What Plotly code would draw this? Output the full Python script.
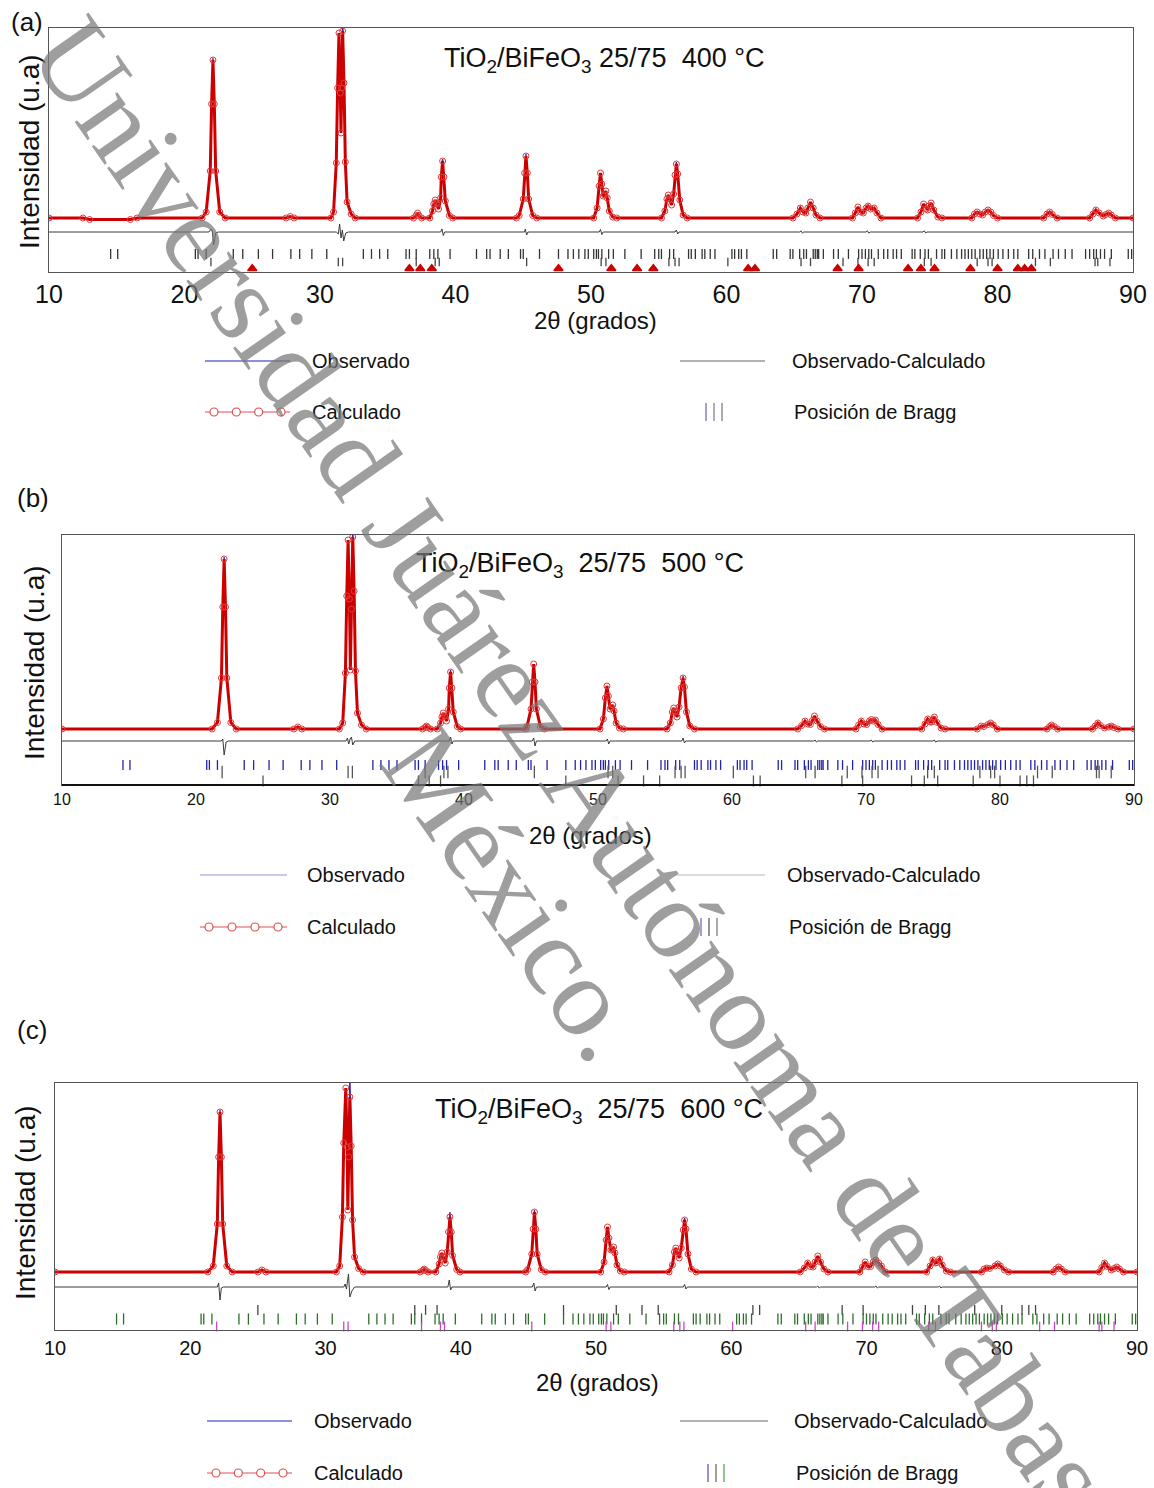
import plotly.graph_objects as go

# ---------------- DATA ----------------
tick_vals = [10, 20, 30, 40, 50, 60, 70, 80, 90]
tick_text = ["10", "20", "30", "40", "50", "60", "70", "80", "90"]

titles = ["TiO<sub>2</sub>/BiFeO<sub>3</sub> 25/75\u00a0\u00a0400 °C",
          "TiO<sub>2</sub>/BiFeO<sub>3</sub>\u00a0\u00a025/75\u00a0\u00a0500 °C",
          "TiO<sub>2</sub>/BiFeO<sub>3</sub>\u00a0\u00a025/75\u00a0\u00a0600 °C"]
panel_labels = ["(a)", "(b)", "(c)"]
legend_labels = ["Observado", "Calculado", "Observado-Calculado", "Posición de Bragg"]
watermark_lines = ["Universidad Juárez Autónoma de Tabasco.", "México."]

# calculated profile (2theta, intensity u.a.)
calc_a = [(10.0, 0), (12.5, 0), (13.0, -15), (16.0, -15), (16.5, 0), (21.3, 0),
          (21.6, 60), (21.9, 470), (22.0, 1140), (22.1, 1580), (22.2, 1140), (22.3, 470), (22.6, 60), (23.0, 0),
          (27.5, 0), (27.8, 15), (28.1, 0), (30.8, 0),
          (31.0, 60), (31.2, 550), (31.3, 1300), (31.4, 1850), (31.5, 1250), (31.55, 850), (31.6, 1300),
          (31.67, 1870), (31.77, 1350), (31.87, 560), (32.0, 160), (32.3, 40), (32.6, 0),
          (36.9, 0), (37.1, 25), (37.2, 50), (37.3, 25), (37.5, 0),
          (38.1, 0), (38.3, 70), (38.4, 140), (38.5, 180), (38.6, 150), (38.75, 90), (38.9, 200), (38.95, 410),
          (39.05, 570), (39.15, 410), (39.25, 170), (39.55, 25), (39.8, 0),
          (44.5, 0), (44.7, 25), (45.0, 190), (45.1, 450), (45.2, 620), (45.3, 450), (45.4, 190), (45.7, 25), (46.0, 0),
          (50.2, 0), (50.45, 100), (50.6, 320), (50.7, 450), (50.8, 340), (50.9, 220), (51.0, 230), (51.1, 270),
          (51.2, 200), (51.35, 70), (51.6, 10), (51.9, 0),
          (55.2, 0), (55.45, 70), (55.6, 190), (55.7, 230), (55.8, 190), (55.95, 130), (56.1, 240), (56.2, 430),
          (56.3, 540), (56.4, 440), (56.55, 180), (56.8, 30), (57.1, 0),
          (64.9, 0), (65.2, 40), (65.45, 100), (65.65, 60), (65.85, 50), (66.0, 100), (66.2, 160), (66.4, 100), (66.6, 30), (66.9, 0),
          (69.3, 0), (69.5, 50), (69.7, 110), (69.9, 60), (70.1, 50), (70.3, 100), (70.45, 120), (70.65, 90), (70.9, 100), (71.1, 50), (71.4, 0),
          (74.1, 0), (74.35, 60), (74.55, 140), (74.75, 90), (74.85, 80), (74.95, 120), (75.1, 150), (75.3, 80), (75.6, 10), (75.9, 0),
          (78.1, 0), (78.3, 40), (78.5, 60), (78.7, 40), (78.9, 30), (79.1, 60), (79.3, 80), (79.5, 60), (79.7, 25), (80.0, 0),
          (83.4, 0), (83.65, 40), (83.85, 60), (84.05, 35), (84.4, 0),
          (86.8, 0), (87.05, 40), (87.26, 80), (87.5, 50), (87.8, 20), (88.0, 35), (88.2, 50), (88.4, 30), (88.7, 0), (90.0, 0)]
obs_tops_a = {22.1: 1600, 31.67: 2050, 39.05: 590, 45.2: 640, 56.3: 560}
diff_a = [(10.0, -140), (21.8, -140), (21.95, -110), (22.05, -125), (22.15, -270), (22.3, -150), (22.5, -140),
          (31.2, -140), (31.35, -160), (31.45, -60), (31.55, -200), (31.65, -120), (31.75, -230), (31.9, -150), (32.1, -140),
          (38.9, -140), (39.0, -110), (39.1, -175), (39.2, -140), (45.1, -140), (45.15, -110), (45.25, -170), (45.35, -140),
          (50.6, -140), (50.7, -115), (50.8, -165), (50.9, -140), (56.2, -140), (56.3, -120), (56.4, -160), (56.5, -140),
          (65.4, -140), (65.5, -128), (65.6, -152), (65.7, -140), (70.3, -140), (70.4, -128), (70.5, -152), (70.6, -140),
          (74.5, -140), (74.6, -128), (74.7, -150), (74.8, -140), (90.0, -140)]

calc_b = [(10.0, 0), (21.2, 0), (21.6, 65), (21.9, 510), (22.0, 1220), (22.1, 1700), (22.2, 1220), (22.3, 510), (22.6, 65), (23.0, 0),
          (27.3, 0), (27.6, 20), (27.9, 0),
          (30.7, 0), (30.95, 60), (31.15, 560), (31.25, 1330), (31.35, 1890), (31.45, 1300), (31.52, 590), (31.6, 1200),
          (31.7, 1920), (31.8, 1380), (31.9, 580), (32.05, 160), (32.35, 40), (32.7, 0),
          (36.9, 0), (37.1, 15), (37.2, 30), (37.3, 15), (37.5, 0),
          (38.0, 0), (38.25, 60), (38.35, 120), (38.45, 160), (38.55, 130), (38.7, 80), (38.85, 200), (38.9, 410),
          (39.0, 570), (39.1, 410), (39.2, 170), (39.5, 25), (39.75, 0),
          (44.6, 0), (44.7, 25), (45.0, 200), (45.1, 470), (45.2, 650), (45.3, 470), (45.4, 200), (45.7, 25), (46.0, 0),
          (50.15, 0), (50.4, 100), (50.55, 310), (50.67, 430), (50.77, 330), (50.9, 200), (51.0, 215), (51.1, 240),
          (51.2, 180), (51.35, 60), (51.6, 10), (51.9, 0),
          (55.15, 0), (55.4, 60), (55.55, 170), (55.65, 210), (55.75, 175), (55.9, 120), (56.05, 220), (56.2, 410),
          (56.35, 510), (56.45, 420), (56.6, 170), (56.85, 30), (57.2, 0),
          (64.9, 0), (65.2, 35), (65.45, 80), (65.65, 50), (65.85, 45), (66.0, 85), (66.15, 130), (66.35, 80), (66.6, 25), (66.9, 0),
          (69.25, 0), (69.45, 40), (69.65, 80), (69.85, 50), (70.05, 45), (70.25, 80), (70.4, 95), (70.55, 80), (70.7, 90), (70.9, 45), (71.2, 0),
          (74.15, 0), (74.4, 50), (74.6, 100), (74.8, 70), (74.9, 70), (75.0, 100), (75.1, 120), (75.3, 65), (75.6, 10), (75.9, 0),
          (78.3, 0), (78.6, 30), (78.8, 25), (79.1, 45), (79.3, 60), (79.5, 40), (79.8, 0),
          (83.5, 0), (83.7, 25), (83.85, 40), (84.05, 25), (84.3, 0),
          (86.9, 0), (87.1, 30), (87.3, 60), (87.5, 35), (87.8, 10), (88.1, 20), (88.3, 30), (88.5, 15), (88.8, 0), (90.0, 0)]
obs_tops_b = {22.1: 1720, 31.7: 2050, 39.0: 590, 56.35: 530}
diff_b = [(10.0, -120), (21.9, -120), (22.0, -100), (22.1, -260), (22.25, -130), (22.4, -120),
          (31.2, -120), (31.3, -90), (31.4, -150), (31.5, -100), (31.6, -80), (31.7, -160), (31.85, -120),
          (38.9, -120), (39.0, -80), (39.1, -150), (39.2, -120), (45.1, -120), (45.2, -90), (45.3, -170), (45.4, -120),
          (50.6, -120), (50.7, -100), (50.8, -150), (50.9, -120), (56.25, -120), (56.35, -90), (56.45, -140), (56.55, -120),
          (66.1, -120), (66.2, -110), (66.3, -130), (66.4, -120), (70.3, -120), (70.4, -110), (70.5, -130), (70.6, -120),
          (75.0, -120), (75.1, -110), (75.2, -132), (75.3, -120), (90.0, -120)]

calc_c = [(10.0, 0), (21.3, 0), (21.7, 60), (22.0, 480), (22.1, 1150), (22.2, 1600), (22.3, 1150), (22.4, 480), (22.7, 60), (23.1, 0),
          (25.0, 0), (25.3, 20), (25.6, 0),
          (30.8, 0), (31.05, 60), (31.25, 550), (31.35, 1290), (31.5, 1840), (31.6, 1250), (31.65, 620), (31.72, 1150),
          (31.8, 1750), (31.9, 1260), (32.0, 520), (32.15, 150), (32.45, 35), (32.8, 0),
          (37.0, 0), (37.2, 15), (37.3, 30), (37.4, 15), (37.6, 0),
          (38.15, 0), (38.4, 80), (38.5, 150), (38.6, 190), (38.7, 150), (38.85, 90), (39.0, 200), (39.1, 400),
          (39.2, 550), (39.3, 400), (39.4, 165), (39.7, 25), (39.95, 0),
          (44.8, 0), (44.95, 25), (45.25, 180), (45.35, 430), (45.45, 600), (45.55, 430), (45.65, 180), (45.95, 25), (46.25, 0),
          (50.35, 0), (50.6, 100), (50.75, 320), (50.85, 450), (50.95, 340), (51.1, 220), (51.2, 230), (51.3, 250),
          (51.4, 190), (51.55, 70), (51.8, 10), (52.1, 0),
          (55.4, 0), (55.65, 70), (55.8, 200), (55.9, 240), (56.0, 200), (56.15, 140), (56.3, 240), (56.45, 420),
          (56.55, 520), (56.65, 430), (56.8, 180), (57.05, 30), (57.4, 0),
          (65.1, 0), (65.4, 40), (65.65, 90), (65.85, 55), (66.05, 50), (66.2, 100), (66.4, 160), (66.6, 100), (66.85, 30), (67.15, 0),
          (69.5, 0), (69.7, 50), (69.9, 100), (70.1, 55), (70.3, 55), (70.5, 100), (70.7, 120), (70.9, 90), (71.1, 60), (71.4, 0),
          (74.45, 0), (74.7, 60), (74.9, 120), (75.1, 90), (75.2, 95), (75.4, 130), (75.6, 70), (75.9, 10), (76.2, 0),
          (78.5, 0), (78.7, 30), (78.9, 40), (79.1, 35), (79.5, 60), (79.7, 80), (79.9, 60), (80.2, 20), (80.5, 0),
          (83.8, 0), (84.0, 30), (84.2, 50), (84.4, 30), (84.7, 0),
          (87.2, 0), (87.4, 45), (87.6, 90), (87.8, 55), (88.1, 20), (88.3, 35), (88.5, 50), (88.7, 30), (89.0, 0), (90.0, 0)]
obs_tops_c = {22.2: 1620, 31.8: 2000, 39.2: 600, 45.45: 620, 56.55: 540}
diff_c = [(10.0, -150), (22.0, -150), (22.1, -110), (22.2, -280), (22.3, -160), (22.45, -150),
          (31.35, -150), (31.45, -120), (31.55, -170), (31.7, -20), (31.8, -250), (31.95, -190), (32.15, -150),
          (39.05, -150), (39.15, -80), (39.25, -180), (39.35, -150), (45.3, -150), (45.4, -110), (45.5, -190), (45.6, -150),
          (50.75, -150), (50.85, -125), (50.95, -175), (51.05, -150), (56.45, -150), (56.55, -125), (56.65, -170), (56.75, -150),
          (66.3, -150), (66.4, -140), (66.5, -160), (66.6, -150), (70.6, -150), (70.7, -140), (70.8, -160), (70.9, -150),
          (75.3, -150), (75.4, -140), (75.5, -160), (75.6, -150), (90.0, -150)]

# Bragg positions (2theta)
bragg_sec = [14.55, 15.07, 20.8, 21.0, 21.6, 23.6, 24.3, 25.45, 26.5, 27.85, 28.5, 29.4, 30.5, 33.2, 33.8, 34.4,
             35.0, 36.35, 36.6, 37.1, 38.1, 38.4, 38.7, 39.6, 41.55, 42.3, 42.55, 43.3, 43.9, 44.8, 45.0, 46.2,
             47.6, 48.3, 48.7, 49.1, 49.55, 49.8, 50.2, 50.4, 50.55, 50.8, 51.3, 51.65, 52.5, 53.7, 54.7, 55.0,
             55.2, 55.8, 56.1, 57.2, 57.4, 57.7, 58.2, 58.4, 58.8, 59.15, 60.4, 60.6, 60.9, 61.1, 61.5, 63.45,
             63.7, 64.7, 64.9, 65.4, 65.7, 65.9, 66.4, 66.55, 66.7, 66.8, 67.15, 67.9, 68.25, 69.0, 69.75, 70.0,
             70.25, 70.5, 70.7, 71.2, 71.6, 71.9, 72.3, 72.55, 72.9, 73.7, 73.9, 74.3, 74.65, 74.9, 75.5, 75.9,
             76.1, 76.6, 77.0, 77.35, 77.6, 77.85, 78.1, 78.35, 78.7, 78.95, 79.2, 79.45, 79.7, 80.05, 80.4,
             80.8, 81.2, 81.5, 82.3, 82.6, 83.1, 83.5, 84.1, 84.5, 85.0, 85.5, 86.5, 86.8, 87.1, 87.3, 87.6,
             87.9, 88.4, 89.65, 89.9]
bragg_bfo = [21.95, 31.35, 31.67, 37.1, 38.5, 38.8, 45.25, 50.75, 51.1, 55.75, 56.2, 56.5, 60.1, 65.5, 66.2,
             68.6, 69.7, 70.45, 70.9, 74.6, 75.1, 78.5, 79.3, 79.6, 82.8, 83.9, 87.2, 87.4, 88.3]
bragg_tio2 = [25.0, 36.6, 37.4, 38.25, 47.6, 51.5, 53.4, 54.6, 61.6, 62.1, 68.2, 69.75, 73.4, 74.35, 75.35,
              78.0, 80.0, 81.5, 82.0, 82.5]

# ---------------- LAYOUT / STYLE ----------------
W, H = 1154, 1488
def px(x): return x / W
def py(y): return 1 - y / H

panels = [
    dict(box=(49, 1133, 28, 272), yr=(-540, 1900), calc=calc_a, tops=obs_tops_a, diff=diff_a, tick_font=25,
         rows=[(bragg_sec, -360, 7, "#333333", "line-ns"), (bragg_bfo, -440, 6, "#444444", "line-ns"),
               (bragg_tio2, -505, 8, "#cc0000", "triangle-up")],
         title_y=60, title_x=604, xtitle_y=321, xtitle_x=595, ytitle_x=29, ytitle_y=152, label=(27, 22),
         leg=dict(r1=361, r2=412, lx=(205, 290), tx=310, gx=(680, 765), tx2=790, bx=(706, 714, 722), tx3=792,
                  obs_col="#6a6ac8", dif_col="#999999", bcols=["#7777cc", "#8888aa", "#888888"])),
    dict(box=(62, 1134, 535, 785), yr=(-560, 1940), calc=calc_b, tops=obs_tops_b, diff=diff_b, tick_font=16,
         rows=[(bragg_sec, -360, 7, "#2222b0", "line-ns"), (bragg_bfo, -430, 9, "#555555", "line-ns"),
               (bragg_tio2, -520, 8, "#555555", "line-ns")],
         title_y=565, title_x=580, xtitle_y=836, xtitle_x=590, ytitle_x=34, ytitle_y=663, label=(33, 498),
         leg=dict(r1=875, r2=927, lx=(200, 287), tx=305, gx=(675, 765), tx2=785, bx=(701, 709, 717), tx3=787,
                  obs_col="#b4b8e6", dif_col="#cfcfcf", bcols=["#7777cc", "#666666", "#888888"])),
    dict(box=(55, 1137, 1083, 1330), yr=(-580, 1890), calc=calc_c, tops=obs_tops_c, diff=diff_c, tick_font=20,
         rows=[(bragg_tio2, -380, 7, "#444444", "line-ns"), (bragg_sec, -470, 8, "#2d6e2d", "line-ns"),
               (bragg_bfo, -545, 7, "#cc44cc", "line-ns")],
         title_y=1111, title_x=599, xtitle_y=1382, xtitle_x=597, ytitle_x=25, ytitle_y=1203, label=(32, 1030),
         leg=dict(r1=1421, r2=1473, lx=(207, 292), tx=312, gx=(680, 768), tx2=792, bx=(708, 716, 724), tx3=794,
                  obs_col="#6a6ad0", dif_col="#999999", bcols=["#6666cc", "#777777", "#66aa66"])),
]

FONT = "Arial, Liberation Sans, sans-serif"
fig = go.Figure()
shapes, annotations = [], []
layout_axes = {}

def ann(text, x, y, size, xanchor="center", yanchor="middle", **kw):
    d = dict(text=text, x=px(x), y=py(y), xref="paper", yref="paper", showarrow=False,
             xanchor=xanchor, yanchor=yanchor, font=dict(family=FONT, size=size, color="#111111"))
    d.update(kw)
    return d

for i, p in enumerate(panels):
    n = "" if i == 0 else str(i + 1)
    xa, ya = "x" + n, "y" + n
    l, r, t, b = p["box"]
    layout_axes["xaxis" + n] = dict(domain=[px(l), px(r)], range=[10, 90], anchor=ya, automargin=False,
                                    tickvals=tick_vals, ticktext=tick_text, ticks="",
                                    showline=True, mirror=True, linecolor="#555555", linewidth=1.2,
                                    showgrid=False, zeroline=False,
                                    tickfont=dict(family=FONT, size=p["tick_font"], color="#111111"))
    layout_axes["yaxis" + n] = dict(domain=[py(b), py(t)], range=list(p["yr"]), anchor=xa, automargin=False,
                                    showticklabels=False, ticks="", showline=True, mirror=True,
                                    linecolor="#555555", linewidth=1.2, showgrid=False, zeroline=False)
    cx = [q[0] for q in p["calc"]]
    cy = [q[1] for q in p["calc"]]
    oy = [p["tops"].get(q[0], q[1]) for q in p["calc"]]
    fig.add_trace(go.Scatter(x=cx, y=oy, mode="lines", line=dict(color="#2a2ab8", width=1.3),
                             xaxis=xa, yaxis=ya, showlegend=False))
    fig.add_trace(go.Scatter(x=cx, y=cy, mode="lines+markers", line=dict(color="#cc0000", width=3),
                             marker=dict(symbol="circle-open", size=6, color="#e03a3a", line=dict(width=1)),
                             xaxis=xa, yaxis=ya, showlegend=False))
    fig.add_trace(go.Scatter(x=[q[0] for q in p["diff"]], y=[q[1] for q in p["diff"]], mode="lines",
                             line=dict(color="#3a3a3a", width=1), xaxis=xa, yaxis=ya, showlegend=False))
    for pos, lev, size, col, sym in p["rows"]:
        fig.add_trace(go.Scatter(x=pos, y=[lev] * len(pos), mode="markers",
                                 marker=dict(symbol=sym, size=size, color=col, line=dict(color=col, width=1.3)),
                                 xaxis=xa, yaxis=ya, showlegend=False, cliponaxis=False))
    annotations.append(ann(titles[i], p["title_x"], p["title_y"], 27))
    annotations.append(ann("2θ (grados)", p["xtitle_x"], p["xtitle_y"], 24))
    annotations.append(ann("Intensidad (u.a)", p["ytitle_x"], p["ytitle_y"], 28, textangle=-90))
    annotations.append(ann(panel_labels[i], p["label"][0], p["label"][1], 26))
    # legend
    lg = p["leg"]
    shapes.append(dict(type="line", xref="paper", yref="paper", x0=px(lg["lx"][0]), x1=px(lg["lx"][1]),
                       y0=py(lg["r1"]), y1=py(lg["r1"]), line=dict(color=lg["obs_col"], width=1.6)))
    shapes.append(dict(type="line", xref="paper", yref="paper", x0=px(lg["gx"][0]), x1=px(lg["gx"][1]),
                       y0=py(lg["r1"]), y1=py(lg["r1"]), line=dict(color=lg["dif_col"], width=1.6)))
    shapes.append(dict(type="line", xref="paper", yref="paper", x0=px(lg["lx"][0]), x1=px(lg["lx"][1]),
                       y0=py(lg["r2"]), y1=py(lg["r2"]), line=dict(color="#e05050", width=1.2)))
    x0, x1 = lg["lx"]
    for k in range(4):
        cxp = x0 + 9 + k * (x1 - x0 - 18) / 3
        shapes.append(dict(type="circle", xref="paper", yref="paper", x0=px(cxp - 4), x1=px(cxp + 4),
                           y0=py(lg["r2"] - 4), y1=py(lg["r2"] + 4), fillcolor="white",
                           line=dict(color="#e05050", width=1.2)))
    for bxp, bc in zip(lg["bx"], lg["bcols"]):
        shapes.append(dict(type="line", xref="paper", yref="paper", x0=px(bxp), x1=px(bxp),
                           y0=py(lg["r2"] - 9), y1=py(lg["r2"] + 9), line=dict(color=bc, width=1.4)))
    for txt, tx, ty in [(legend_labels[0], lg["tx"], lg["r1"]), (legend_labels[1], lg["tx"], lg["r2"]),
                        (legend_labels[2], lg["tx2"], lg["r1"]), (legend_labels[3], lg["tx3"], lg["r2"])]:
        annotations.append(ann(txt, tx, ty, 20, xanchor="left"))

# thicker bottom axis of panel (b)
l, r, t, b = panels[1]["box"]
shapes.append(dict(type="line", xref="paper", yref="paper", x0=px(l), x1=px(r), y0=py(b), y1=py(b),
                   line=dict(color="#111111", width=2.2)))

# watermark (two rotated lines)
for txt, (wx, wy) in zip(watermark_lines, [(610, 820), (516, 893)]):
    annotations.append(dict(text=txt, x=px(wx), y=py(wy), xref="paper", yref="paper", showarrow=False,
                            textangle=55, xanchor="center", yanchor="middle",
                            font=dict(family="Liberation Serif, Times New Roman, serif", size=113,
                                      color="rgba(120,120,120,0.72)")))

fig.update_layout(width=W, height=H, margin=dict(l=0, r=0, t=0, b=0, autoexpand=False), paper_bgcolor="white",
                  plot_bgcolor="white", showlegend=False, shapes=shapes, annotations=annotations, **layout_axes)
fig.write_html("out.html", config={"displayModeBar": False},
               post_script="document.body.style.margin='0';document.body.style.overflow='hidden';")
